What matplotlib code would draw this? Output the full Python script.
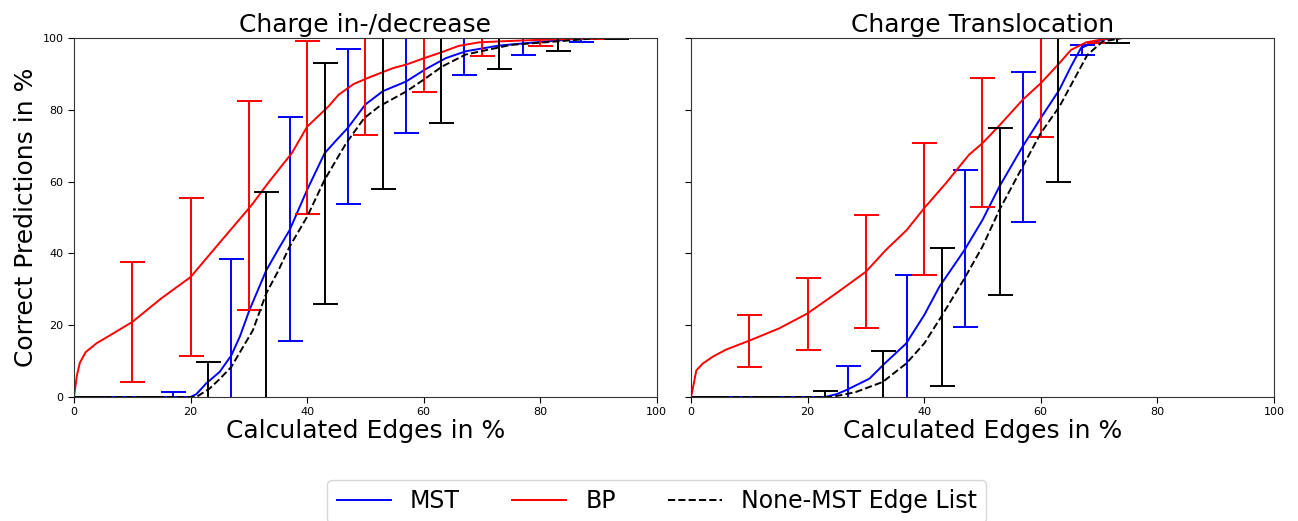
#!/usr/bin/env python3
# -*- coding: utf-8 -*-
"""
Correct predictions vs. calculated edges
MST / BP / None-MST edge list, two charge scenarios
"""

import sys
import matplotlib
matplotlib.use('Agg')
import matplotlib.pyplot as plt

plt.rcParams['font.family'] = ['DejaVu Sans']
plt.rcParams['font.size'] = 8
plt.rcParams['xtick.direction'] = 'out'
plt.rcParams['ytick.direction'] = 'out'

COLORS = {
    'MST': '#0000ff',
    'BP': '#ff0000',
    'None-MST Edge List': '#000000',
}

TITLES = ['Charge in-/decrease', 'Charge Translocation']

# ---- Charge in-/decrease: curves ----
L_MST_X = [0, 20, 21, 22.7, 25, 27, 28.5, 30.1, 33, 35, 37, 40, 43, 45, 47, 50, 53, 57,
           60.3, 63.8, 67.2, 72.9, 80, 88, 100]
L_MST_Y = [0, 0, 0.8, 3.8, 7, 11.6, 17, 24.2, 35.3, 41, 46.5, 57.7, 67.9, 71.5, 75, 81.5,
           85.2, 87.9, 91.3, 94.4, 96.3, 97.9, 98.9, 100, 100]
L_BP_X = [0, 0.5, 1, 2, 3.9, 6, 10, 15, 20, 25, 30.5, 33.3, 37.4, 40, 43.7, 45.4, 48, 50.3,
          54.7, 57, 60.1, 63, 66, 69.5, 75, 80, 85, 90, 100]
L_BP_Y = [0, 6, 9.5, 12.5, 15, 17, 20.9, 27.5, 33.4, 43, 53.5, 59.6, 68, 75.3, 81, 84.2,
          87.2, 88.8, 91.6, 92.6, 94.4, 96, 97.8, 98.8, 99.2, 99.5, 99.7, 100, 100]
L_NM_X = [0, 21, 23.3, 25, 27, 30.7, 33, 35, 37, 40, 43, 46.7, 49.8, 52.4, 57, 60, 63.2,
          67.2, 75, 84, 90, 100]
L_NM_Y = [0, 0, 2.4, 5, 8.4, 18.6, 28.9, 35, 41.9, 50.2, 60.5, 70.7, 77.7, 81, 85.1, 88.4,
          92.1, 95.4, 98.1, 99.2, 100, 100]

# ---- Charge in-/decrease: error bars ----
L_MST_EX = [7, 17, 27, 37, 47, 57, 67, 77, 87, 97]
L_MST_EY = [0, 0, 11.6, 46.9, 75.4, 87.9, 96.3, 98.5, 99.5, 100]
L_MST_EE = [0, 1.4, 26.8, 31.2, 21.6, 14.4, 6.5, 3.2, 0.7, 0]
L_BP_EX = [10, 20, 30, 40, 50, 60, 70, 80, 90]
L_BP_EY = [20.9, 33.4, 53.4, 75.1, 88.8, 94.4, 98.8, 99.5, 100]
L_BP_EE = [16.6, 22.1, 29.1, 24.2, 15.8, 9.3, 3.7, 1.8, 0.4]
L_NM_EX = [3, 13, 23, 33, 43, 53, 63, 73, 83, 93]
L_NM_EY = [0, 0, 2.4, 28, 59.5, 81.5, 92.1, 97.5, 99.2, 100]
L_NM_EE = [0, 0, 7.4, 29, 33.6, 23.6, 15.8, 6.1, 2.9, 0.3]

# ---- Charge Translocation: curves ----
R_MST_X = [0, 23, 25, 26.6, 30.6, 33.2, 36.9, 40, 42.6, 46.9, 50, 52.9, 56.9, 60, 63.2,
           65.2, 66.9, 69.4, 72, 100]
R_MST_Y = [0, 0, 0.8, 1.9, 5.1, 9.3, 14.9, 22.8, 30.7, 40.9, 49.3, 58.6, 69.8, 77.7, 85.6,
           92.1, 97.2, 99, 100, 100]
R_BP_X = [0, 0.5, 0.9, 2, 3.7, 6, 10, 15.1, 20, 25, 30, 33.4, 37, 40, 43.7, 47.7, 50, 53,
          56.9, 60, 63.2, 65.2, 67.8, 71.2, 74, 100]
R_BP_Y = [0, 4, 7.4, 9.3, 11.2, 13.2, 15.7, 19.1, 23.3, 29, 34.9, 40.9, 46.5, 52.6, 59.5,
          67.5, 70.7, 75.8, 82.8, 87.4, 93, 96.7, 98.8, 99.8, 100, 100]
R_NM_X = [0, 24, 26, 28.3, 32.9, 36.9, 40, 42.9, 46.9, 50, 52.9, 56.9, 60, 63.2, 66, 68,
          70.6, 74, 100]
R_NM_Y = [0, 0, 0.6, 1.4, 4.2, 9.3, 14.9, 22.3, 33, 41.9, 52.1, 64.2, 73.5, 80.9, 89.3,
          95.3, 99, 100, 100]

# ---- Charge Translocation: error bars ----
R_MST_EX = [7, 17, 27, 37, 47, 57, 67, 77, 87, 97]
R_MST_EY = [0, 0, 2, 15, 41.3, 69.6, 96.7, 100, 100, 100]
R_MST_EE = [0, 0, 6.6, 19, 21.9, 20.8, 1.4, 0, 0, 0]
R_BP_EX = [10, 20, 30, 40, 50, 60, 70, 80, 90]
R_BP_EY = [15.6, 23.1, 35, 52.4, 71, 87.4, 99.5, 100, 100]
R_BP_EE = [7.2, 10.1, 15.7, 18.4, 18, 15.1, 0.8, 0, 0]
R_NM_EX = [3, 13, 23, 33, 43, 53, 63, 73, 83, 93]
R_NM_EY = [0, 0, 0, 4.5, 22.3, 51.6, 80.5, 99.9, 100, 100]
R_NM_EE = [0, 0, 1.6, 8.2, 19.3, 23.2, 20.5, 1.2, 0, 0]

PANELS = [
    {
        'MST': (L_MST_X, L_MST_Y, L_MST_EX, L_MST_EY, L_MST_EE),
        'BP': (L_BP_X, L_BP_Y, L_BP_EX, L_BP_EY, L_BP_EE),
        'None-MST Edge List': (L_NM_X, L_NM_Y, L_NM_EX, L_NM_EY, L_NM_EE),
    },
    {
        'MST': (R_MST_X, R_MST_Y, R_MST_EX, R_MST_EY, R_MST_EE),
        'BP': (R_BP_X, R_BP_Y, R_BP_EX, R_BP_EY, R_BP_EE),
        'None-MST Edge List': (R_NM_X, R_NM_Y, R_NM_EX, R_NM_EY, R_NM_EE),
    },
]


def plot_panel(ax, data, title):
    handles = []
    for name in ['MST', 'BP', 'None-MST Edge List']:
        x, y, ex, ey, ee = data[name]
        color = COLORS[name]
        ls = '--' if name == 'None-MST Edge List' else '-'
        line, = ax.plot(x, y, color=color, linestyle=ls, linewidth=1.4, label=name)
        ax.errorbar(ex, ey, yerr=ee, fmt='none', ecolor=color, elinewidth=1.4,
                    capsize=9, capthick=1.4)
        handles.append(line)

    ax.set_xlim(0, 100)
    ax.set_ylim(0, 100)
    ax.set_xticks([0, 20, 40, 60, 80, 100])
    ax.set_yticks([0, 20, 40, 60, 80, 100])
    ax.tick_params(labelsize=8, length=4)
    ax.set_title(title, fontsize=18, pad=4)
    ax.set_xlabel('Calculated Edges in %', fontsize=18, labelpad=1)
    for s in ax.spines.values():
        s.set_color('#333333')
    return handles


def main():
    fig = plt.figure(figsize=(12.98, 5.21), dpi=100)
    ax1 = fig.add_axes([0.057, 0.238, 0.449, 0.689])
    ax2 = fig.add_axes([0.5324, 0.238, 0.449, 0.689], sharey=ax1)

    handles = plot_panel(ax1, PANELS[0], TITLES[0])
    plot_panel(ax2, PANELS[1], TITLES[1])
    ax2.tick_params(labelleft=False)
    ax1.set_ylabel('Correct Predictions in %', fontsize=18, labelpad=3)

    fig.legend(handles=handles, labels=['MST', 'BP', 'None-MST Edge List'],
               loc='upper center', bbox_to_anchor=(0.506, 0.079), ncol=3,
               fontsize=17, handlelength=2.3, columnspacing=2.2, frameon=True,
               fancybox=True, borderaxespad=0)

    fig.savefig('out.png', dpi=100)
    plt.close(fig)
    return 0


if __name__ == '__main__':
    sys.exit(main())
